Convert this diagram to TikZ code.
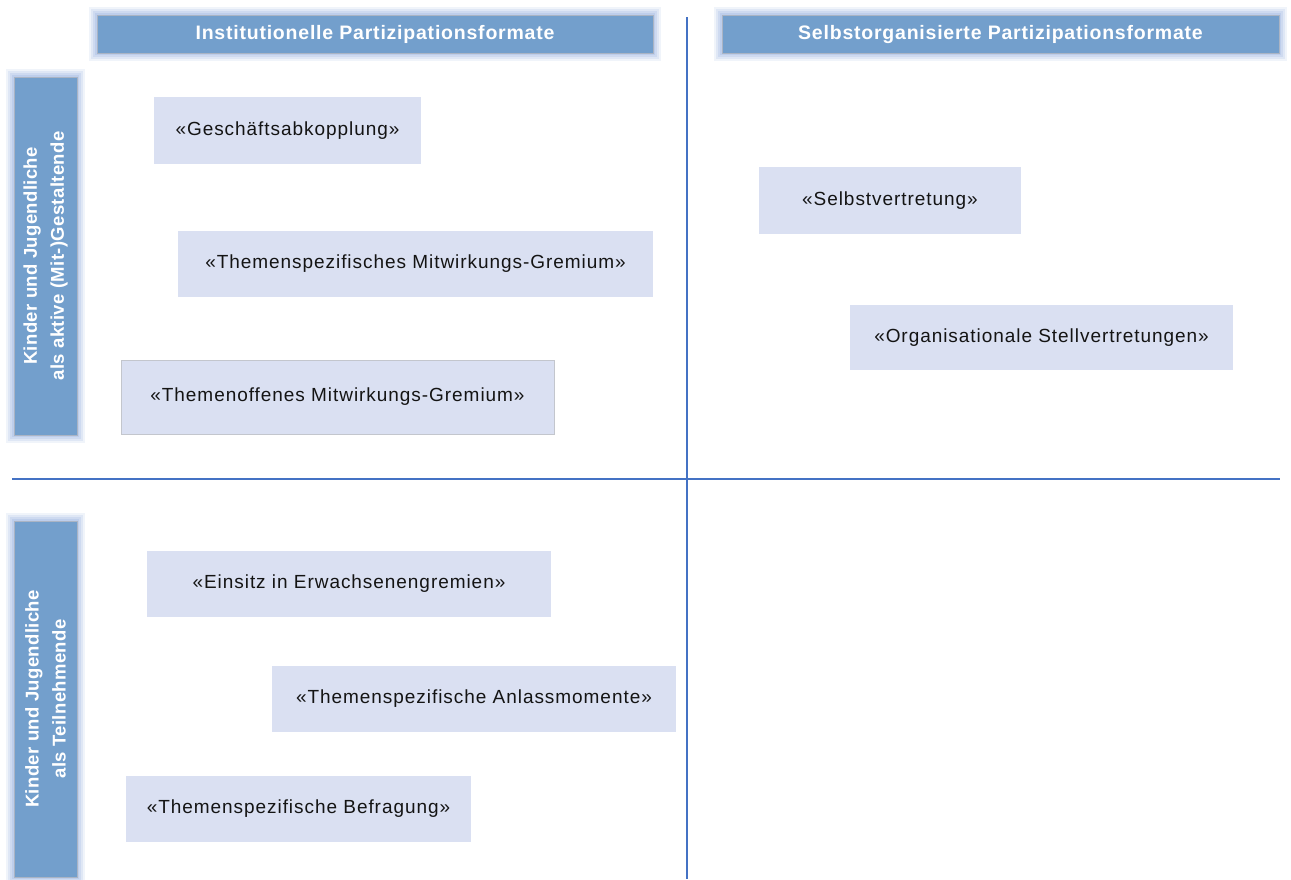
\documentclass[tikz,border=0pt]{standalone}
\usepackage{fontspec}
\setmainfont{Liberation Sans}
\newfontfamily\boxfont[LetterSpace=5]{Liberation Sans}
\newfontfamily\headfont[LetterSpace=4]{Liberation Sans}
\newfontfamily\sidefont[LetterSpace=2]{Liberation Sans}
\usetikzlibrary{calc,backgrounds}
\definecolor{headfill}{RGB}{115,159,204}
\definecolor{headedge}{RGB}{170,180,196}
\definecolor{glowc}{RGB}{175,195,232}
\definecolor{boxfill}{RGB}{218,224,242}
\definecolor{boxedge}{RGB}{195,198,205}
\definecolor{axisc}{RGB}{68,114,196}
\definecolor{txt}{RGB}{20,20,20}
% #1 = page lower-left corner, #2 = page upper-right corner
\newcommand{\glowbox}[2]{%
  \foreach \k/\o in {8/0.18,6/0.25,4/0.35,2/0.5}{%
    \fill[glowc,opacity=\o] ($(#1)+(-\k pt,-\k pt)$) rectangle ($(#2)+(\k pt,\k pt)$);}}
\tikzset{
  itembox/.style={fill=boxfill, draw=none, inner sep=0pt, outer sep=0pt,
    text=txt, font=\boxfont\fontsize{19}{23}\selectfont},
  headbox/.style={fill=headfill, draw=headedge, line width=1pt, inner sep=0pt, outer sep=0pt,
    text=white, minimum height=38pt, font=\headfont\bfseries\fontsize{19.5}{23}\selectfont},
  sidebox/.style={fill=headfill, draw=headedge, line width=1pt, inner sep=0pt, outer sep=0pt,
    text=white, rotate=90, minimum height=63pt, align=center,
    font=\sidefont\bfseries\fontsize{18.5}{27}\selectfont},
  axis/.style={draw=axisc, line width=2pt}
}
\begin{document}
\begin{tikzpicture}[x=1pt,y=-1pt]
\useasboundingbox (0,0) rectangle (1291,879);
% headers
\node[headbox, minimum width=556pt] (h1) at (375,34) {Institutionelle Partizipationsformate};
\node[headbox, minimum width=557pt] (h2) at (1000.5,34) {Selbstorganisierte Partizipationsformate};
% side labels
\node[sidebox, minimum width=358pt] (s1) at (45.5,256) {Kinder und Jugendliche\\als aktive (Mit-)Gestaltende};
\node[sidebox, minimum width=356pt] (s2) at (45.5,699) {Kinder und Jugendliche\\als Teilnehmende};
\begin{pgfonlayer}{background}
  \fill[white] (0,0) rectangle (1291,879);
  \glowbox{h1.south west}{h1.north east}
  \glowbox{h2.south west}{h2.north east}
  \glowbox{s1.north west}{s1.south east}
  \glowbox{s2.north west}{s2.south east}
\end{pgfonlayer}
% axes
\coordinate (vtop) at (687,17);
\coordinate (vbot) at (687,879);
\coordinate (hl) at (12,479);
\coordinate (hr) at (1280,479);
\draw[axis] (vtop) -- (vbot);
\draw[axis] (hl) -- (hr);
% items
\node[itembox, minimum width=267pt, minimum height=67pt] (b1) at (287.5,130.5) {«Geschäftsabkopplung»};
\node[itembox, minimum width=475pt, minimum height=66pt] (b2) at (415.5,264) {«Themenspezifisches Mitwirkungs-Gremium»};
\node[itembox, draw=boxedge, line width=0.8pt, minimum width=433pt, minimum height=74pt] (b3) at (337.5,397) {«Themenoffenes Mitwirkungs-Gremium»};
\node[itembox, minimum width=262pt, minimum height=67pt] (b4) at (890,200.5) {«Selbstvertretung»};
\node[itembox, minimum width=383pt, minimum height=65pt] (b5) at (1041.5,337.5) {«Organisationale Stellvertretungen»};
\node[itembox, minimum width=404pt, minimum height=66pt] (b6) at (349,584) {«Einsitz in Erwachsenengremien»};
\node[itembox, minimum width=404pt, minimum height=66pt] (b7) at (474,699) {«Themenspezifische Anlassmomente»};
\node[itembox, minimum width=345pt, minimum height=66pt] (b8) at (298.5,809) {«Themenspezifische Befragung»};
\end{tikzpicture}
\end{document}
